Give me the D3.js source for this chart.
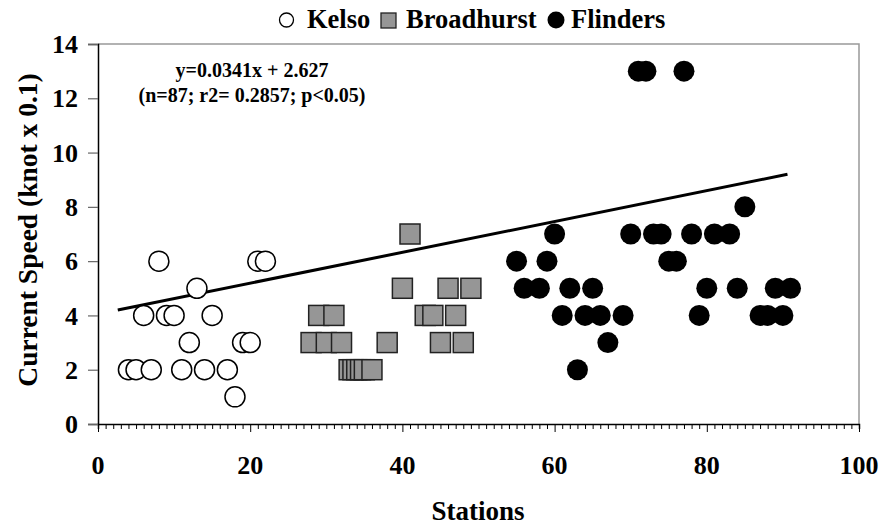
<!DOCTYPE html>
<html>
<head>
<meta charset="utf-8">
<script src="https://cdn.jsdelivr.net/npm/d3@7"></script>
<style>
  body { margin: 0; background: #fff; }
  text { font-family: "Liberation Serif", "Times New Roman", serif; font-weight: bold; fill: #000; }
</style>
</head>
<body>
<div id="chart"></div>
<script>
// values
var kelsoX = [4, 5, 6, 7, 8, 9, 10, 11, 12, 13, 14, 15, 17, 18, 19, 20, 21, 22];
var kelsoY = [2, 2, 4, 2, 6, 4, 4, 2, 3, 5, 2, 4, 2, 1, 3, 3, 6, 6];

var broadX = [28, 29, 30, 31, 32, 33, 33.5, 34, 34.5, 35, 36, 38, 40, 41, 43, 44, 45, 46, 47, 48, 49];
var broadY = [3, 4, 3, 4, 3, 2, 2, 2, 2, 2, 2, 3, 5, 7, 4, 4, 3, 5, 4, 3, 5];

var flindX = [55, 56, 58, 59, 60, 61, 62, 63, 64, 65, 66, 67, 69, 70, 71, 72, 73, 74, 75, 76, 77, 78, 79, 80, 81, 83, 84, 85, 87, 88, 89, 90, 91];
var flindY = [6, 5, 5, 6, 7, 4, 5, 2, 4, 5, 4, 3, 4, 7, 13, 13, 7, 7, 6, 6, 13, 7, 4, 5, 7, 7, 5, 8, 4, 4, 5, 4, 5];

// fitted line as drawn
var trendX = [2.6, 90.6];
var trendY = [4.2, 9.2];

var xTicks = [0, 20, 40, 60, 80, 100];
var yTicks = [0, 2, 4, 6, 8, 10, 12, 14];
var legendNames = ["Kelso", "Broadhurst", "Flinders"];
var eqLines = ["y=0.0341x + 2.627", "(n=87; r2= 0.2857; p<0.05)"];

var width = 884, height = 530;
var margin = {top: 44, right: 25, bottom: 106, left: 98};

var svg = d3.select("#chart").append("svg")
    .attr("width", width)
    .attr("height", height);

var xScale = d3.scaleLinear().domain([0, 100]).range([margin.left, width - margin.right]);
var yScale = d3.scaleLinear().domain([0, 14]).range([height - margin.bottom, margin.top]);

// plot frame (top/right grey)
svg.append("path")
    .attr("d", `M${xScale(0)},${yScale(14)}H${xScale(100)}V${yScale(0)}`)
    .attr("fill", "none")
    .attr("stroke", "#999")
    .attr("stroke-width", 1.5);

// x axis: minor ticks every 1, labels every 20
var xAxis = d3.axisBottom(xScale)
    .tickValues(d3.range(0, 101, 1))
    .tickSize(5)
    .tickFormat("");
var gx = svg.append("g")
    .attr("transform", `translate(0,${yScale(0)})`)
    .call(xAxis);
gx.selectAll("line").attr("stroke", "#000");
gx.select(".domain").attr("stroke", "#000").attr("stroke-width", 1.5);
gx.selectAll(".tick").filter(d => d % 20 === 0).select("line").attr("y2", 8);

svg.append("g").selectAll("text")
    .data(xTicks)
    .enter().append("text")
    .attr("x", d => xScale(d))
    .attr("y", 474)
    .attr("text-anchor", "middle")
    .attr("font-size", 26)
    .text(d => d);

// y axis
var yAxis = d3.axisLeft(yScale)
    .tickValues(yTicks)
    .tickSize(10)
    .tickFormat("");
var gy = svg.append("g")
    .attr("transform", `translate(${xScale(0)},0)`)
    .call(yAxis);
gy.selectAll("line").attr("stroke", "#666").attr("stroke-width", 1.2);
gy.select(".domain").attr("stroke", "#000").attr("stroke-width", 1.5);

svg.append("g").selectAll("text")
    .data(yTicks)
    .enter().append("text")
    .attr("x", 78)
    .attr("y", d => yScale(d))
    .attr("dy", "0.35em")
    .attr("text-anchor", "end")
    .attr("font-size", 26)
    .text(d => d);

// axis titles
svg.append("text")
    .attr("x", 478)
    .attr("y", 520)
    .attr("text-anchor", "middle")
    .attr("font-size", 27)
    .text("Stations");

svg.append("text")
    .attr("transform", `translate(37,${(yScale(0) + yScale(14)) / 2 - 4}) rotate(-90)`)
    .attr("text-anchor", "middle")
    .attr("font-size", 27.5)
    .text("Current Speed (knot x 0.1)");

// trend line
svg.append("line")
    .attr("x1", xScale(trendX[0]))
    .attr("y1", yScale(trendY[0]))
    .attr("x2", xScale(trendX[1]))
    .attr("y2", yScale(trendY[1]))
    .attr("stroke", "#000")
    .attr("stroke-width", 3);

// markers
svg.append("g").selectAll("circle")
    .data(kelsoX)
    .enter().append("circle")
    .attr("cx", d => xScale(d))
    .attr("cy", (d, i) => yScale(kelsoY[i]))
    .attr("r", 10)
    .attr("fill", "#fff")
    .attr("stroke", "#000")
    .attr("stroke-width", 1.5);

svg.append("g").selectAll("rect")
    .data(broadX)
    .enter().append("rect")
    .attr("x", d => xScale(d) - 10)
    .attr("y", (d, i) => yScale(broadY[i]) - 10)
    .attr("width", 20)
    .attr("height", 20)
    .attr("fill", "#969696")
    .attr("stroke", "#222")
    .attr("stroke-width", 1.5);

svg.append("g").selectAll("circle")
    .data(flindX)
    .enter().append("circle")
    .attr("cx", d => xScale(d))
    .attr("cy", (d, i) => yScale(flindY[i]))
    .attr("r", 10.5)
    .attr("fill", "#000");

// equation
svg.append("g").selectAll("text")
    .data(eqLines)
    .enter().append("text")
    .attr("x", 252)
    .attr("y", (d, i) => 77 + i * 25)
    .attr("text-anchor", "middle")
    .attr("font-size", 20)
    .text(d => d);

// legend
var legend = svg.append("g");
legend.append("circle")
    .attr("cx", 286.5).attr("cy", 20).attr("r", 7)
    .attr("fill", "#fff").attr("stroke", "#000").attr("stroke-width", 1.3);
legend.append("rect")
    .attr("x", 381).attr("y", 13).attr("width", 15).attr("height", 15)
    .attr("fill", "#969696").attr("stroke", "#222").attr("stroke-width", 1.3);
legend.append("circle")
    .attr("cx", 556).attr("cy", 20).attr("r", 8.5)
    .attr("fill", "#000");
legend.selectAll("text")
    .data(legendNames)
    .enter().append("text")
    .attr("x", (d, i) => [307, 406, 571][i])
    .attr("y", 28)
    .attr("font-size", 26.5)
    .text(d => d);
</script>
</body>
</html>
